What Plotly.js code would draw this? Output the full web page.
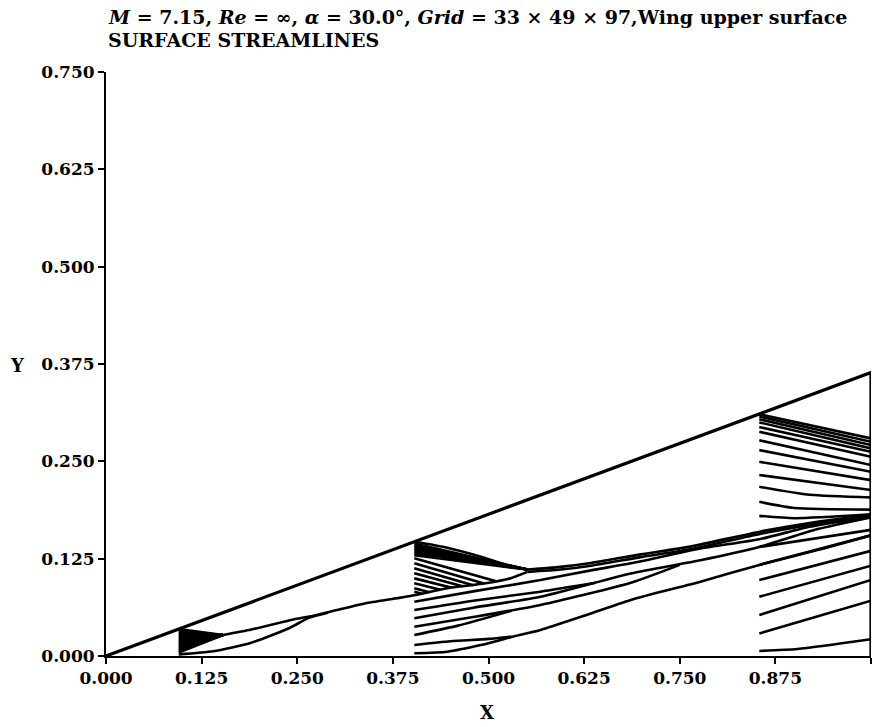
<!DOCTYPE html>
<html>
<head>
<meta charset="utf-8">
<script src="https://cdn.plot.ly/plotly-3.0.1.min.js"></script>
<style>
  html, body { margin: 0; padding: 0; background: #fff; }
  #chart { width: 895px; height: 727px; }
</style>
</head>
<body>
<div id="chart"></div>
<script>
// Wing planform: apex -> tip along the leading edge, then down the trailing edge
const wingX = [0, 1, 1];
const wingY = [0, 0.364, 0];

// ---- Station 1 (x = 0.095): fan that collapses onto one line ----
const st1X = 0.095;
const st1Seeds = [0.0345, 0.032, 0.0295, 0.027, 0.0245, 0.022, 0.0195, 0.017, 0.0145, 0.012, 0.0095, 0.007, 0.0045];
const st1FocusX = 0.153, st1FocusY = 0.027;
// path followed after the fan closes, up to the main bundle
const st1TailX = [0.153, 0.19, 0.245, 0.27, 0.302, 0.341, 0.385, 0.403, 0.446, 0.494, 0.529, 0.551];
const st1TailY = [0.027, 0.034, 0.047, 0.0515, 0.059, 0.068, 0.075, 0.078, 0.087, 0.093, 0.100, 0.108];
// lowest streamline of station 1
const st1BaseX = [0.095, 0.14, 0.19, 0.24, 0.265, 0.29];
const st1BaseY = [0.002, 0.006, 0.017, 0.036, 0.049, 0.0555];

// Main bundle running to the trailing edge
const bundleX = [0.551, 0.594, 0.634, 0.699, 0.764, 0.856, 0.93, 1.0];
const bundleY = [0.111, 0.1145, 0.1195, 0.1305, 0.1405, 0.1600, 0.1725, 0.1815];
const bundleLowY = [0.108, 0.111, 0.116, 0.127, 0.137, 0.157, 0.170, 0.180];

// ---- Station 2 (x = 0.403) ----
const st2X = 0.403;
const st2TopSeeds = [0.1445, 0.142, 0.1395, 0.137, 0.1345, 0.132, 0.1295];
const st2FocusX = 0.551, st2FocusY = 0.111;
const st2EdgeX = [0.403, 0.446, 0.49, 0.524, 0.551];
const st2EdgeY = [0.147, 0.139, 0.1275, 0.117, 0.111];
const st2MidSeeds = [0.1254, 0.119, 0.1126, 0.1062, 0.0997, 0.0933, 0.0869, 0.0826];
const st2MidMergeX = [0.51, 0.494, 0.48, 0.466, 0.451, 0.437, 0.423, 0.413];
const st2MidMergeY = [0.096, 0.093, 0.091, 0.0895, 0.088, 0.085, 0.082, 0.080];

const st2aX = [0.403, 0.48, 0.568, 0.634, 0.686, 0.777, 0.854, 0.92, 1.0];
const st2aY = [0.0697, 0.083, 0.0975, 0.110, 0.119, 0.138, 0.150, 0.166, 0.179];
const st2bX = [0.403, 0.48, 0.568, 0.64];
const st2bY = [0.059, 0.071, 0.0826, 0.094];
const st2cX = [0.403, 0.48, 0.568, 0.686, 0.777, 0.854, 0.93, 1.0];
const st2cY = [0.0484, 0.062, 0.0761, 0.106, 0.123, 0.140, 0.163, 0.178];
const st2dX = [0.403, 0.48, 0.568, 0.686, 0.75];
const st2dY = [0.0376, 0.050, 0.0655, 0.094, 0.117];
const st2eX = [0.403, 0.46, 0.53];
const st2eY = [0.027, 0.039, 0.058];
const st2fX = [0.403, 0.45, 0.50, 0.53];
const st2fY = [0.0141, 0.019, 0.022, 0.025];
const st2gX = [0.403, 0.446, 0.49, 0.533, 0.568, 0.62, 0.686, 0.777, 0.854, 0.93, 1.0];
const st2gY = [0.0035, 0.0055, 0.014, 0.025, 0.0334, 0.050, 0.072, 0.0954, 0.117, 0.136, 0.155];

// ---- Station 3 (x = 0.854) ----
const st3X = 0.854;
const st3UpSeeds = [0.3105, 0.3075, 0.304, 0.300, 0.294, 0.288, 0.277, 0.2644, 0.2494, 0.2324];
const st3UpEnds  = [0.2795, 0.2751, 0.2709, 0.2666, 0.2623, 0.2558, 0.2452, 0.2366, 0.2259, 0.2131];
const st3kX = [0.854, 0.92, 1.0];
const st3kY = [0.2173, 0.207, 0.2035];
const st3lX = [0.854, 0.90, 1.0];
const st3lY = [0.198, 0.190, 0.188];
const st3mX = [0.854, 0.90, 1.0];
const st3mY = [0.180, 0.177, 0.182];
const st3LowSeeds = [0.140, 0.117, 0.0976, 0.0761, 0.0526, 0.029];
const st3LowEnds  = [0.162, 0.155, 0.135, 0.116, 0.0976, 0.071];
const st3BaseX = [0.854, 0.904, 1.0];
const st3BaseY = [0.0065, 0.009, 0.0215];

const tickVals = [0, 0.125, 0.25, 0.375, 0.5, 0.625, 0.75, 0.875, 1.0];
const yTickVals = [0, 0.125, 0.25, 0.375, 0.5, 0.625, 0.75];

const FONT = 'DejaVu Serif, Liberation Serif, serif';
const traces = [];
function line(xs, ys, w, smooth) {
  traces.push({
    type: 'scatter', mode: 'lines', x: xs, y: ys,
    line: { color: '#000', width: w, shape: smooth ? 'spline' : 'linear', smoothing: 0.6 },
    hoverinfo: 'skip', cliponaxis: false
  });
}
const SW = 2.6;

// wing outline
line(wingX, wingY, 3.2, false);

// station 1
st1Seeds.forEach(y0 => line([st1X, st1FocusX], [y0, st1FocusY], SW, false));
line(st1TailX, st1TailY, SW, true);
line(st1BaseX, st1BaseY, SW, true);

// bundle
line(bundleX, bundleY, SW, true);
line(bundleX, bundleLowY, SW, true);

// station 2
line(st2EdgeX, st2EdgeY, SW, true);
st2TopSeeds.forEach(y0 => line([st2X, st2FocusX], [y0, st2FocusY], SW, false));
st2MidSeeds.forEach((y0, i) => line([st2X, st2MidMergeX[i]], [y0, st2MidMergeY[i]], SW, false));
[[st2aX, st2aY], [st2bX, st2bY], [st2cX, st2cY], [st2dX, st2dY],
 [st2eX, st2eY], [st2fX, st2fY], [st2gX, st2gY]].forEach(p => line(p[0], p[1], SW, true));

// station 3
st3UpSeeds.forEach((y0, i) => line([st3X, 1.0], [y0, st3UpEnds[i]], SW, false));
line(st3kX, st3kY, SW, true);
line(st3lX, st3lY, SW, true);
line(st3mX, st3mY, SW, true);
st3LowSeeds.forEach((y0, i) => line([st3X, 1.0], [y0, st3LowEnds[i]], SW, false));
line(st3BaseX, st3BaseY, SW, true);

const axisCommon = {
  showgrid: false, zeroline: false, showline: true, linecolor: '#000', linewidth: 2,
  ticks: 'outside', ticklen: 6, tickwidth: 2, tickcolor: '#000',
  tickformat: '.3f', tickfont: { family: FONT, size: 17, color: '#000', weight: 'bold' },
  fixedrange: true
};

const titleFont = { family: FONT, size: 19, color: '#000', weight: 'bold' };
const labelFont = { family: FONT, size: 18, color: '#000', weight: 'bold' };

const layout = {
  width: 895, height: 727,
  margin: { l: 106, r: 24, t: 72, b: 71 },
  paper_bgcolor: '#fff', plot_bgcolor: '#fff',
  showlegend: false, hovermode: false,
  xaxis: Object.assign({}, axisCommon, { range: [0, 1], tickvals: tickVals }),
  yaxis: Object.assign({}, axisCommon, { range: [0, 0.75], tickvals: yTickVals }),
  annotations: [
    { text: '<i>M</i> = 7.15, <i>Re</i> = ∞, <i>α</i> = 30.0°, <i>Grid</i> = 33 × 49 × 97,Wing upper surface',
      xref: 'paper', yref: 'paper', x: 0, y: 1.0942, xanchor: 'left', yanchor: 'middle',
      showarrow: false, font: titleFont },
    { text: 'SURFACE STREAMLINES',
      xref: 'paper', yref: 'paper', x: 0, y: 1.0548, xanchor: 'left', yanchor: 'middle',
      showarrow: false, font: titleFont },
    { text: 'Y', xref: 'paper', yref: 'paper', x: -0.1163, y: 0.4966, xanchor: 'center', yanchor: 'middle',
      showarrow: false, font: labelFont },
    { text: 'X', xref: 'paper', yref: 'paper', x: 0.498, y: -0.0976, xanchor: 'center', yanchor: 'middle',
      showarrow: false, font: labelFont }
  ]
};

Plotly.newPlot('chart', traces, layout, { staticPlot: true, displayModeBar: false });
</script>
</body>
</html>
